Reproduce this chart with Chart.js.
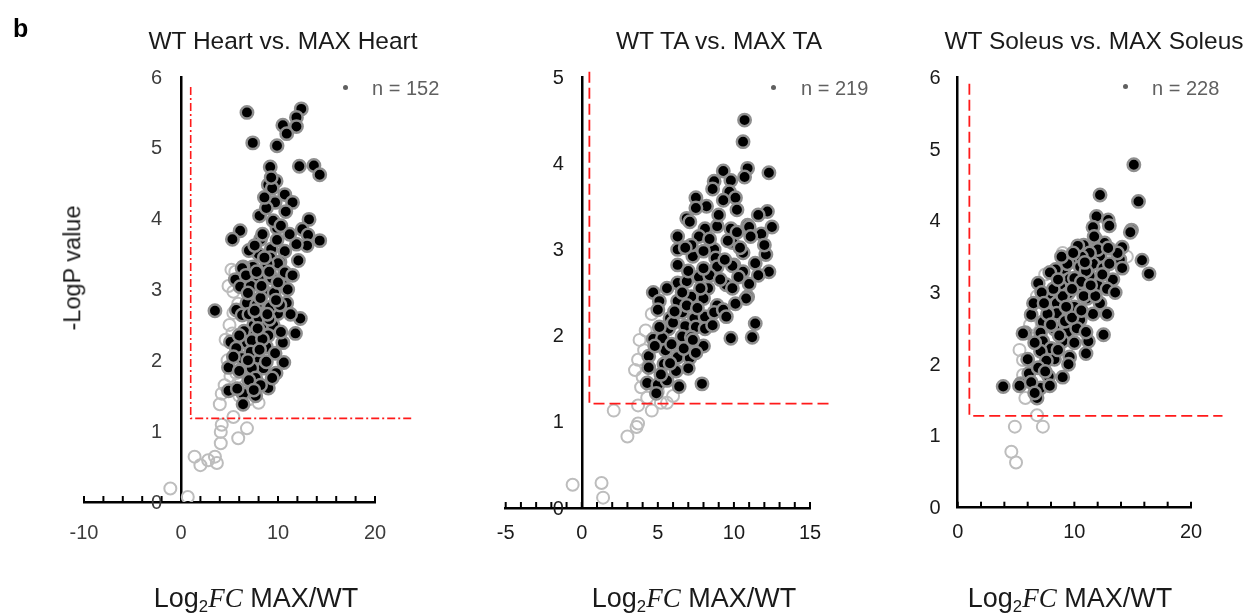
<!DOCTYPE html>
<html>
<head>
<meta charset="utf-8">
<title>Volcano MAX vs WT</title>
<script src="https://cdn.jsdelivr.net/npm/chart.js@4.4.1/dist/chart.umd.min.js"></script>
<style>
  html, body { margin: 0; padding: 0; background: #fff; }
  #wrap { position: relative; width: 1250px; height: 614px; overflow: hidden;
          font-family: "Liberation Sans", Arial, sans-serif; }
  canvas { position: absolute; top: 0; }
  .lbl { position: absolute; white-space: nowrap; line-height: 1; color: #1a1a1a; z-index: 2; }
  .titolo { font-size: 24.5px; transform: translateX(-50%); top: 29px; }
  .asseX { font-size: 27px; transform: translateX(-50%); top: 585px; }
  .fc { font-family: "Liberation Serif", serif; font-style: italic; }
  .sub { font-size: 0.62em; position: relative; top: 0.32em; }
  .legenda { font-size: 20px; color: #606060; top: 78px; }
  .punto { position: absolute; width: 5px; height: 5px; border-radius: 50%; background: #606060; z-index: 2; }
</style>
</head>
<body>
<div id="wrap">
  <canvas id="cHeart" width="440" height="614" style="left:0px"></canvas>
  <canvas id="cTA" width="420" height="614" style="left:440px"></canvas>
  <canvas id="cSoleus" width="390" height="614" style="left:860px"></canvas>

  <div class="lbl" style="left:13px; top:16px; font-size:25px; font-weight:bold; color:#000;">b</div>

  <div class="lbl titolo" style="left:283px;">WT Heart vs. MAX Heart</div>
  <div class="lbl titolo" style="left:719px;">WT TA vs. MAX TA</div>
  <div class="lbl titolo" style="left:1094px;">WT Soleus vs. MAX Soleus</div>

  <div class="punto" style="left:342.5px; top:84.5px;"></div>
  <div class="lbl legenda" style="left:372px;">n = 152</div>
  <div class="punto" style="left:771px; top:84.5px;"></div>
  <div class="lbl legenda" style="left:801px;">n = 219</div>
  <div class="punto" style="left:1122.5px; top:83.5px;"></div>
  <div class="lbl legenda" style="left:1152px;">n = 228</div>

  <div class="lbl" style="left:73px; top:268px; font-size:23.5px; transform:translate(-50%,-50%) rotate(-90deg);">-LogP value</div>

  <div class="lbl asseX" style="left:256px;">Log<span class="sub">2</span><span class="fc">FC</span> MAX/WT</div>
  <div class="lbl asseX" style="left:694px;">Log<span class="sub">2</span><span class="fc">FC</span> MAX/WT</div>
  <div class="lbl asseX" style="left:1070px;">Log<span class="sub">2</span><span class="fc">FC</span> MAX/WT</div>
</div>

<script>
// ================================
//   DATI
// ================================
// [log2FC, -logP]  punti significativi (neri)
const heartSig = [
  [6.8,5.50],[12.4,5.55],[11.9,5.43],[11.9,5.30],[10.5,5.32],[10.9,5.20],[7.4,5.07],[9.9,5.03],
  [9.2,4.73],[12.2,4.74],[13.7,4.75],[14.3,4.62],[9.8,4.53],[9.0,4.48],[9.4,4.43],[10.7,4.34],
  [11.5,4.23],[9.7,4.23],[10.8,4.10],[8.1,4.04],[13.2,3.99],[9.9,3.87],[9.5,3.97],[12.5,3.85],
  [6.1,3.83],[5.3,3.71],[8.2,3.71],[13.1,3.77],[14.3,3.69],[13.0,3.62],[11.9,3.64],[10.7,3.54],
  [9.3,3.57],[8.0,3.50],[12.1,3.41],[10.2,3.39],[9.2,3.45],[10.0,3.37],[7.4,3.32],[6.4,3.32],
  [5.6,3.14],[6.1,3.04],[8.5,2.99],[10.5,3.06],[9.4,3.16],[8.9,3.36],[10.7,3.24],[6.3,3.30],
  [6.8,2.81],[7.8,2.78],[10.9,2.81],[3.5,2.70],[5.7,2.71],[10.0,2.66],[6.3,2.64],[12.3,2.59],
  [8.7,2.53],[7.5,2.50],[11.8,2.38],[6.5,2.41],[7.7,2.38],[5.1,2.26],[6.8,2.25],[10.5,2.25],
  [8.8,2.19],[5.7,2.17],[7.9,2.04],[6.3,2.03],[10.6,1.97],[4.9,1.90],[8.5,1.89],[7.3,1.89],
  [9.8,1.82],[7.7,1.75],[9.0,1.61],[4.9,1.57],[6.4,1.53],[7.7,1.50],[6.4,1.38],
  [7.0,3.55],[7.6,3.62],[8.4,3.78],[8.8,4.15],[9.1,3.25],[8.0,3.15],[7.2,3.05],[9.6,2.95],
  [8.2,2.88],[9.2,2.75],[7.0,2.65],[8.0,2.60],[9.5,2.50],[10.3,2.40],[9.0,2.35],[7.3,2.28],
  [8.4,2.30],[6.0,2.35],[9.7,2.10],[7.2,2.12],[8.8,1.98],[6.0,1.85],[7.0,1.72],[8.2,1.65],
  [5.8,1.60],[10.2,2.78],[11.0,3.00],[11.3,2.65],[6.7,3.20],[8.6,3.45],[7.8,3.25],[9.9,3.70],
  [10.3,3.90],[11.2,3.78],[8.6,4.30],[9.3,4.58],[7.9,2.45],[9.1,2.58],[6.9,2.00],[8.1,2.15],
  [5.4,2.05],[9.4,1.75],[7.5,1.58],[6.9,2.95],[10.0,3.10],[8.3,3.05],[9.8,2.85],[11.5,3.20],
  [7.6,2.70],[8.9,2.65]
];
// punti non significativi (cerchi grigi)
const heartNs = [
  [-1.1,0.19],[0.7,0.07],[1.4,0.64],[2.0,0.52],[2.8,0.59],[3.5,0.64],[3.7,0.55],[4.1,0.83],
  [4.1,0.99],[4.2,1.09],[5.9,0.90],[6.8,1.04],[5.4,1.20],[4.0,1.38],[4.2,1.53],[4.5,1.65],
  [5.2,1.58],[5.9,1.68],[5.7,1.82],[6.6,1.64],[8.0,1.40],[5.1,1.78],[4.6,2.29],[5.4,2.67],
  [5.4,2.97],[5.6,3.25],[5.2,3.28],[4.9,3.05],[5.0,2.50],[4.8,2.00],[5.5,1.95],[6.2,1.72],
  [7.0,1.45],[6.0,1.50],[7.3,1.60],[5.3,2.38],[5.9,2.80]
];
// soglie (linea rossa): x, y
const heartCutX = [1, 1, 23.8];
const heartCutY = [5.86, 1.18, 1.18];

const taSig = [
  [10.7,4.50],[10.6,4.25],[9.3,3.91],[10.9,3.94],[10.7,3.84],[12.3,3.89],[8.7,3.79],[9.8,3.80],
  [8.6,3.70],[9.7,3.67],[10.1,3.60],[9.3,3.57],[7.5,3.60],[8.2,3.50],[10.2,3.46],[7.5,3.48],
  [6.9,3.36],[7.1,3.32],[8.1,3.24],[8.9,3.27],[9.8,3.24],[10.9,3.28],[12.2,3.44],[11.6,3.40],
  [11.0,3.26],[12.5,3.26],[11.8,3.18],[11.1,3.15],[6.3,3.15],[7.7,3.15],[9.9,3.08],[6.3,3.00],
  [8.7,3.00],[10.6,2.96],[12.1,2.94],[7.3,2.92],[8.8,2.90],[11.4,2.84],[6.3,2.82],[10.0,2.82],
  [12.3,2.74],[10.6,2.74],[10.9,2.45],
  [7.7,2.68],[8.9,2.80],[9.9,2.81],[6.3,2.61],[6.9,2.63],[9.5,2.59],[8.3,2.55],[4.7,2.50],
  [5.1,2.40],[7.2,2.45],[8.0,2.43],[10.8,2.43],[6.3,2.40],[8.9,2.35],[10.1,2.37],[5.0,2.30],
  [6.6,2.27],[7.4,2.20],[8.1,2.22],[8.7,2.27],[9.3,2.30],[5.8,2.20],[11.4,2.14],[5.7,2.08],
  [6.8,2.11],[7.5,2.10],[8.1,2.08],[9.8,1.97],[11.2,1.98],[4.7,1.96],[5.3,1.97],[6.6,1.99],
  [7.2,1.98],[8.0,1.88],[5.5,1.83],[4.4,1.76],[6.3,1.75],[7.1,1.74],[4.4,1.63],[5.4,1.67],
  [6.2,1.59],[7.0,1.62],[4.3,1.45],[5.0,1.43],[5.6,1.48],[6.4,1.41],[7.9,1.44],[4.9,1.33],
  [5.9,1.90],[6.0,2.15],[6.9,2.35],[7.8,2.55],[8.4,2.70],[9.1,2.65],[9.4,2.88],[8.0,2.78],
  [7.0,2.75],[6.6,2.50],[5.6,2.55],[7.6,2.32],[9.9,2.55],[10.3,2.68],[11.0,2.60],[9.6,3.10],
  [8.4,3.12],[7.2,3.05],[6.8,3.02],[9.0,3.40],[10.4,3.02],[8.0,2.98],[5.2,1.55],[5.8,1.68],
  [6.7,1.85],[7.5,1.80],[5.1,2.10],[6.1,2.28],[4.8,1.88],[11.6,2.70],[12.0,3.05],[10.2,3.20],
  [9.5,2.22],[8.6,2.12],[7.3,1.95]
];
const taNs = [
  [2.1,1.13],[3.0,0.83],[3.7,0.98],[3.6,0.94],[3.7,1.19],[4.6,1.13],[5.2,1.22],[5.6,1.22],
  [4.3,1.28],[3.5,1.60],[3.7,1.72],[3.8,1.95],[4.2,2.06],[4.1,1.83],[-0.6,0.27],[1.3,0.29],
  [1.4,0.12],[4.6,2.25],[5.0,1.35],[6.0,1.30],[3.9,1.40],[4.0,1.52]
];
const taCutX = [0.5, 0.5, 16.4];
const taCutY = [5.06, 1.21, 1.21];

const soleusSig = [
  [15.1,4.78],[12.2,4.36],[15.5,4.27],[11.9,4.06],[12.9,4.01],[11.6,3.91],[13.0,3.93],[14.9,3.87],
  [14.8,3.84],[11.9,3.73],[10.8,3.66],[12.6,3.69],[14.1,3.63],[12.2,3.51],[13.9,3.46],[15.8,3.45],
  [10.1,3.48],[11.6,3.40],[16.4,3.26],[9.1,3.33],[10.5,3.36],[12.5,3.34],[14.1,3.34],[8.4,3.32],
  [7.9,3.28],[9.6,3.19],[11.3,3.23],[13.3,3.18],[6.9,3.13],[8.8,3.08],[10.3,3.08],[7.8,2.98],
  [9.5,2.99],[11.1,2.92],[12.2,2.85],[8.5,2.85],[9.6,2.78],[6.3,2.69],[7.3,2.59],[8.5,2.71],
  [10.5,2.62],[9.4,2.45],[8.3,2.49],[12.5,2.41],[5.8,2.44],[7.1,2.44],[11.2,2.32],[7.3,2.32],
  [8.0,2.22],[9.0,2.32],[6.0,2.07],[8.3,2.07],[9.6,2.10],[7.1,2.18],[6.1,1.87],[7.8,1.83],
  [9.0,1.82],[3.9,1.69],[5.4,1.73],[7.1,1.67],[6.8,1.53],[5.3,1.70],[5.6,2.43],
  [10.0,3.20],[11.0,3.30],[12.0,3.10],[10.8,2.95],[11.6,2.70],[10.0,2.80],[9.0,2.95],[8.2,3.05],
  [12.8,3.05],[13.0,3.40],[12.0,3.60],[11.3,3.55],[10.6,3.15],[9.8,3.05],[9.2,2.60],[10.2,2.50],
  [11.0,2.45],[8.7,2.40],[7.7,2.70],[6.6,2.30],[7.6,2.05],[6.9,1.95],[6.3,1.75],[7.5,1.90],
  [8.6,2.20],[10.0,2.30],[9.8,2.65],[11.8,2.95],[13.5,3.00],[12.8,2.70],[8.0,2.55],[9.4,3.40],
  [10.6,3.50],[11.4,3.10],[6.5,2.85],[7.2,3.00],[8.9,3.50],[10.3,3.65],[12.4,3.25],[13.7,3.55],
  [11.0,2.15],[9.5,2.00],[7.9,1.70],[6.6,1.60],
  [9.9,3.55],[11.7,3.78],[12.9,3.62],[10.9,3.42],[8.6,3.18],[9.3,2.80],[10.6,2.75],[7.4,2.85]
];
const soleusNs = [
  [5.8,1.53],[6.8,1.29],[4.9,1.13],[7.3,1.13],[4.6,0.78],[5.0,0.63],[5.6,2.06],[5.3,2.20],
  [5.6,1.85],[6.2,2.55],[6.8,2.95],[7.5,3.25],[9.0,3.55],[11.8,3.60],[13.2,3.60],[14.5,3.50]
];
const soleusCutX = [1, 1, 22.7];
const soleusCutY = [5.91, 1.28, 1.28];

// ================================
//   TACCHE ASSE X + ETICHETTE ASSE Y
// ================================
// (con position {x:0} Chart.js ignora ticks.padding dell'asse y,
//  quindi le etichette y le scrivo qui, sempre dai tick della scala)
const tacchePlugin = {
  id: "tacche",
  beforeDatasetsDraw(chart) {
    const sx = chart.scales.x;
    const sy = chart.scales.y;
    const c = chart.ctx;
    const base = sy.getPixelForValue(0);
    c.save();
    c.strokeStyle = "#000";
    c.lineWidth = 2;
    sx.ticks.forEach(t => {
      const px = sx.getPixelForValue(t.value);
      c.beginPath();
      c.moveTo(px, base);
      c.lineTo(px, base - 6);
      c.stroke();
    });
    c.restore();
  },
  afterDraw(chart, args, opts) {
    const sx = chart.scales.x;
    const sy = chart.scales.y;
    const c = chart.ctx;
    const x0 = sx.getPixelForValue(0);
    c.save();
    c.fillStyle = opts.color;
    c.font = opts.size + "px 'Liberation Sans', Arial, sans-serif";
    c.textAlign = "right";
    c.textBaseline = "middle";
    sy.ticks.forEach(t => {
      c.fillText(String(t.value), x0 - opts.pad, sy.getPixelForValue(t.value) + 1);
    });
    c.restore();
  }
};

const toXY = arr => arr.map(p => ({ x: p[0], y: p[1] }));
const zip = (xs, ys) => xs.map((x, i) => ({ x, y: ys[i] }));

// ================================
//   CREA UN VOLCANO PLOT
// ================================
function creaVolcano(id, cfg) {
  const ctx = document.getElementById(id);
  return new Chart(ctx, {
    type: "scatter",
    data: {
      datasets: [
        {
          label: "sig",
          data: toXY(cfg.sig),
          pointRadius: 6.2,
          pointBorderWidth: 2.5,
          backgroundColor: "#000",
          borderColor: "#8f8f8f",
          pointBackgroundColor: "#000",
          pointBorderColor: "#8f8f8f"
        },
        {
          label: "soglia",
          data: zip(cfg.cutX, cfg.cutY),
          showLine: true,
          pointRadius: 0,
          borderColor: "#ff1a1a",
          borderWidth: cfg.cutWidth,
          borderDash: cfg.dash,
          fill: false,
          clip: false
        },
        {
          label: "ns",
          data: toXY(cfg.ns),
          pointRadius: 6,
          pointBorderWidth: 2,
          backgroundColor: "rgba(255,255,255,0)",
          borderColor: "#bdbdbd",
          pointBackgroundColor: "rgba(255,255,255,0)",
          pointBorderColor: "#bdbdbd"
        }
      ]
    },
    options: {
      responsive: false,
      animation: false,
      events: [],
      layout: { padding: cfg.pad },
      plugins: {
        legend: { display: false },
        tooltip: { enabled: false },
        title: { display: false },
        tacche: { color: cfg.tickColor, size: 20, pad: cfg.yPad }
      },
      scales: {
        x: {
          type: "linear",
          min: cfg.xMin,
          max: cfg.xMax,
          position: { y: 0 },
          grid: { display: false, drawTicks: false },
          border: { color: "#000", width: 2.5 },
          ticks: {
            stepSize: cfg.xStep,
            autoSkip: false,
            maxRotation: 0,
            padding: cfg.xPad,
            color: cfg.tickColor,
            font: { size: 20 },
            callback: v => (v % cfg.xLabelStep === 0 ? String(v) : "")
          }
        },
        y: {
          type: "linear",
          min: 0,
          max: cfg.yMax,
          position: { x: 0 },
          grid: { display: false, drawTicks: false },
          border: { color: "#000", width: 2.5 },
          ticks: { stepSize: 1, display: false }
        }
      }
    },
    plugins: [tacchePlugin]
  });
}

Chart.defaults.font.family = "'Liberation Sans', Arial, sans-serif";

creaVolcano("cHeart", {
  sig: heartSig, ns: heartNs, cutX: heartCutX, cutY: heartCutY,
  dash: [8, 3, 2, 3], cutWidth: 1.6,
  xMin: -10, xMax: 20, xStep: 2, xLabelStep: 10, yMax: 6,
  pad: { left: 84, right: 65, top: 77, bottom: 112 },
  xPad: 19, yPad: 19, tickColor: "#3c3c3c"
});

creaVolcano("cTA", {
  sig: taSig, ns: taNs, cutX: taCutX, cutY: taCutY,
  dash: [11, 5], cutWidth: 1.8,
  xMin: -5, xMax: 15, xStep: 1, xLabelStep: 5, yMax: 5,
  pad: { left: 65.7, right: 50, top: 77, bottom: 106 },
  xPad: 13, yPad: 18, tickColor: "#1a1a1a"
});

creaVolcano("cSoleus", {
  sig: soleusSig, ns: soleusNs, cutX: soleusCutX, cutY: soleusCutY,
  dash: [11, 5], cutWidth: 1.8,
  xMin: 0, xMax: 20, xStep: 2, xLabelStep: 10, yMax: 6,
  pad: { left: 97.7, right: 59, top: 77.3, bottom: 106.3 },
  xPad: 13, yPad: 17, tickColor: "#1a1a1a"
});
</script>
</body>
</html>
